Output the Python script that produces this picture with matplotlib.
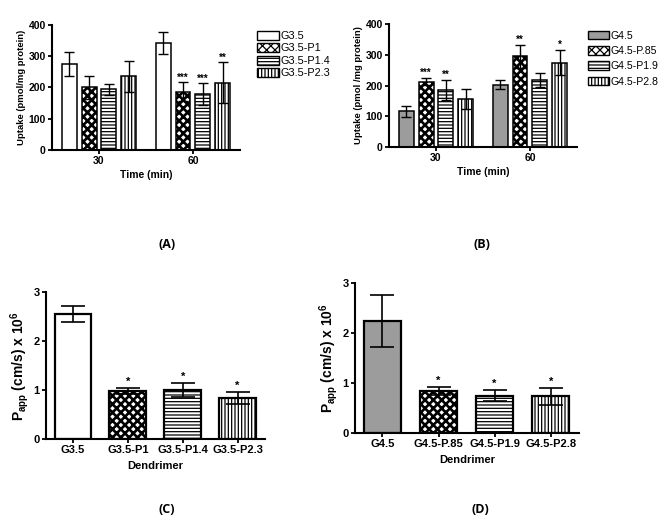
import matplotlib
matplotlib.use("Agg")
import matplotlib.pyplot as plt
import numpy as np
from matplotlib.patches import Patch

plt.rcParams['font.family'] = ['Liberation Sans', 'DejaVu Sans']
plt.rcParams['font.weight'] = 'bold'
plt.rcParams['hatch.linewidth'] = 0.9
plt.rcParams['mathtext.fontset'] = 'custom'
plt.rcParams['mathtext.rm'] = 'Liberation Sans:bold'
plt.rcParams['mathtext.it'] = 'Liberation Sans:bold'
plt.rcParams['mathtext.bf'] = 'Liberation Sans:bold'

# ---- Data ----
time_labels = ['30', '60']

a_series = ['G3.5', 'G3.5-P1', 'G3.5-P1.4', 'G3.5-P2.3']
a_mean = [[275, 342], [201, 186], [194, 179], [236, 215]]
a_err = [[37, 36], [37, 30], [18, 34], [49, 65]]
a_sig = [['', ''], ['', '***'], ['', '***'], ['', '**']]

b_series = ['G4.5', 'G4.5-P.85', 'G4.5-P1.9', 'G4.5-P2.8']
b_mean = [[116, 203], [213, 295], [186, 218], [156, 274]]
b_err = [[18, 15], [11, 38], [33, 22], [33, 41]]
b_sig = [['', ''], ['***', '**'], ['**', ''], ['', '*']]

c_cats = ['G3.5', 'G3.5-P1', 'G3.5-P1.4', 'G3.5-P2.3']
c_mean = [2.55, 0.98, 1.00, 0.835]
c_err = [0.16, 0.07, 0.15, 0.12]
c_sig = ['', '*', '*', '*']

d_cats = ['G4.5', 'G4.5-P.85', 'G4.5-P1.9', 'G4.5-P2.8']
d_mean = [2.25, 0.85, 0.75, 0.74]
d_err = [0.52, 0.08, 0.11, 0.17]
d_sig = ['', '*', '*', '*']

GRAY = '#9c9c9c'
styles_a = [dict(fc='white', hatch=None), dict(fc='white', hatch='xxxx'),
            dict(fc='white', hatch='-----'), dict(fc='white', hatch='|||||')]
styles_b = [dict(fc=GRAY, hatch=None), dict(fc='white', hatch='xxxx'),
            dict(fc='white', hatch='-----'), dict(fc='white', hatch='|||||')]

def hatch_lw(h):
    return 1.9 if (h and 'x' in h) else 0.9

fig = plt.figure(figsize=(6.64, 5.30), dpi=100)

def style_axes(ax, size=7.5):
    for s in ['top', 'right']:
        ax.spines[s].set_visible(False)
    for s in ['left', 'bottom']:
        ax.spines[s].set_linewidth(1.5)
    ax.tick_params(axis='both', width=1.3, length=3, labelsize=size, pad=1.5)
    for lab in ax.get_xticklabels() + ax.get_yticklabels():
        lab.set_fontweight('bold')

def grouped(ax, series, means, errs, sigs, styles, sig_pad):
    n = len(series)
    spacing = 0.211
    width = 0.159
    x = np.arange(len(time_labels))
    handles = []
    for i in range(n):
        pos = x + (i - (n - 1) / 2) * spacing
        st = styles[i]
        with plt.rc_context({'hatch.linewidth': hatch_lw(st['hatch'])}):
            ax.bar(pos, means[i], width, color=st['fc'], edgecolor='black',
                   linewidth=1.1, hatch=st['hatch'], zorder=2)
            handles.append(Patch(facecolor=st['fc'], edgecolor='black',
                                 hatch=st['hatch'], linewidth=1.0, label=series[i]))
        ax.errorbar(pos, means[i], yerr=errs[i], fmt='none', ecolor='black',
                    elinewidth=1.0, capsize=3.5, capthick=1.0, zorder=3)
        for p, m, e, s in zip(pos, means[i], errs[i], sigs[i]):
            if s:
                ax.text(p, m + e + sig_pad, s, ha='center', va='bottom',
                        fontsize=7, fontweight='bold')
    ax.set_xticks(x)
    ax.set_xticklabels(time_labels)
    ax.set_xlim(-0.5, 1.5)
    ax.set_ylim(0, 400)
    ax.set_yticks([0, 100, 200, 300, 400])
    ax.set_xlabel('Time (min)', fontsize=7.5, fontweight='bold', labelpad=3)
    style_axes(ax)
    return handles

# Panel A
axA = fig.add_axes([0.0783, 0.717, 0.283, 0.236])
hA = grouped(axA, a_series, a_mean, a_err, a_sig, styles_a, 0)
axA.set_ylabel('Uptake (pmol/mg protein)', fontsize=6.8, fontweight='bold', labelpad=2)
fig.legend(handles=hA, loc='upper left', bbox_to_anchor=(0.379, 0.952),
           frameon=False, prop={'size': 7.8, 'weight': 'normal'},
           handlelength=2.0, handleheight=0.9,
           handletextpad=0.2, labelspacing=0.2, borderpad=0)

# Panel B
axB = fig.add_axes([0.5858, 0.7226, 0.283, 0.232])
hB = grouped(axB, b_series, b_mean, b_err, b_sig, styles_b, 0)
axB.set_ylabel('Uptake (pmol /mg protein)', fontsize=6.8, fontweight='bold', labelpad=2)
fig.legend(handles=hB, loc='upper left', bbox_to_anchor=(0.877, 0.952),
           frameon=False, prop={'size': 7.6, 'weight': 'normal'},
           handlelength=2.0, handleheight=0.9,
           handletextpad=0.15, labelspacing=0.5, borderpad=0)

def single(ax, cats, means, errs, sigs, styles, capsize):
    x = np.arange(len(cats))
    for i in range(len(cats)):
        st = styles[i]
        with plt.rc_context({'hatch.linewidth': hatch_lw(st['hatch'])}):
            ax.bar(x[i], means[i], 0.67, color=st['fc'], edgecolor='black',
                   linewidth=1.6, hatch=st['hatch'], zorder=2)
        ax.errorbar(x[i], means[i], yerr=errs[i], fmt='none', ecolor='black',
                    elinewidth=1.2, capsize=capsize, capthick=1.2, zorder=3)
        if sigs[i]:
            ax.text(x[i], means[i] + errs[i] + 0.02, sigs[i], ha='center',
                    va='bottom', fontsize=8, fontweight='bold')
    ax.set_xticks(x)
    ax.set_xticklabels(cats)
    ax.set_xlim(-0.49, 3.5)
    ax.set_ylim(0, 3)
    ax.set_yticks([0, 1, 2, 3])
    ax.set_xlabel('Dendrimer', fontsize=8, fontweight='bold', labelpad=4)
    ax.set_ylabel(r'$\mathbf{P_{app}}$ (cm/s) x 10$^{\mathbf{6}}$', fontsize=10,
                  fontweight='bold', labelpad=2)
    style_axes(ax, 8)
    ax.tick_params(axis='x', length=3)

axC = fig.add_axes([0.0693, 0.1717, 0.330, 0.277])
single(axC, c_cats, c_mean, c_err, c_sig, styles_a, 8.5)

axD = fig.add_axes([0.5346, 0.183, 0.337, 0.283])
single(axD, d_cats, d_mean, d_err, d_sig, styles_b, 8.5)

for txt, x, y in [('(A)', 0.251, 0.538), ('(B)', 0.726, 0.538),
                  ('(C)', 0.251, 0.038), ('(D)', 0.723, 0.038)]:
    fig.text(x, y, txt, ha='center', va='center', fontsize=9, fontweight='bold',
             family=['Open Sans', 'DejaVu Sans'])

fig.savefig('out.png', dpi=100, facecolor='white')
